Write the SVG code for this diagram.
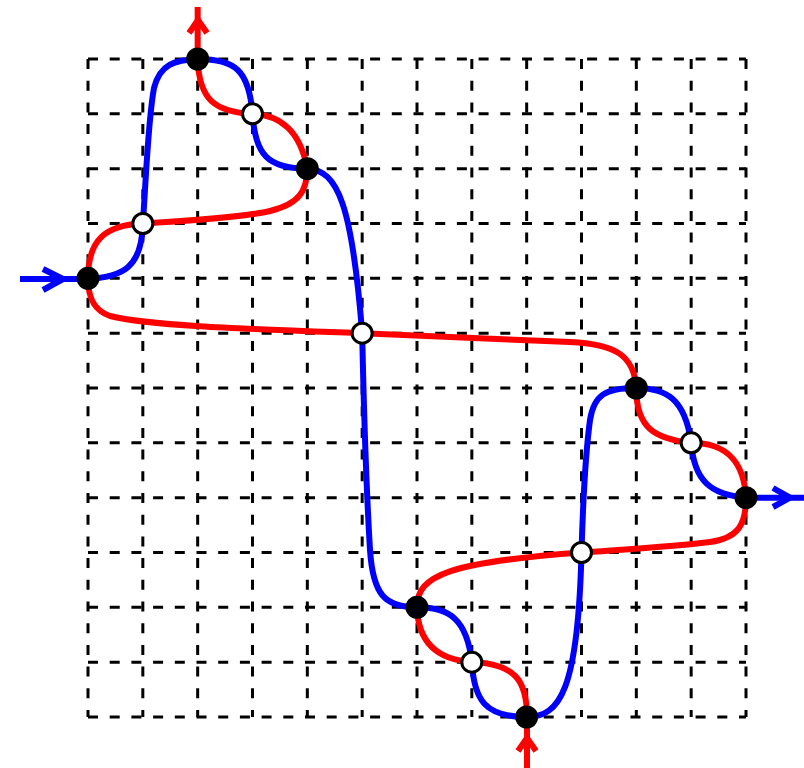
<svg xmlns="http://www.w3.org/2000/svg" width="804" height="768" viewBox="0 0 804 768">
<style>
.grid{fill:none;stroke:#000;stroke-width:3;stroke-dasharray:10 11.7}
.red{fill:none;stroke:#ff0000;stroke-width:6;stroke-linecap:butt;stroke-linejoin:round}
.blue{fill:none;stroke:#0000ff;stroke-width:6;stroke-linecap:butt;stroke-linejoin:round}
.black{fill:#000;stroke:none}
.white{fill:#fff;stroke:#000;stroke-width:3}
</style>
<rect width="804" height="768" fill="#fff"/>
<g id="grid" class="grid">
<path d="M88 59V717M142.83 59V717M197.67 59V717M252.5 59V717M307.33 59V717M362.17 59V717M417 59V717M471.83 59V717M526.67 59V717M581.5 59V717M636.33 59V717M691.17 59V717M746 59V717"/>
<path d="M88 59H746M88 113.83H746M88 168.67H746M88 223.5H746M88 278.33H746M88 333.17H746M88 388H746M88 442.83H746M88 497.67H746M88 552.5H746M88 607.33H746M88 662.17H746M88 717H746"/>
</g>
<g id="connectors">
<path class="red" d="M527 768V717 C527 680 515 664 472 662 C440 660 418 645 417 607 C417 575 450 562 581.5 552.5 C630 549 680 546 710 542 C738 538 746 525 746 497.67 C744 465 730 443 691 442.83 C655 439 636 428 636.33 388 C634 355 615 344 570 342 C500 339 420 336 362.17 333.17 C250 329 150 326 110 316 C92 310 88 295 88 278.33 C88 240 105 225 142.83 223.5 C200 220 250 216 270 211 C300 204 307 190 307.33 168.67 C300 130 280 115 252.5 113.83 C215 112 199 100 197.67 59 V7"/>
<path class="red" d="M518 751L527 738L536 751"/>
<path class="red" d="M189 33L198 20L207 33"/>
<path class="blue" d="M20 279H88 C122 277 142 268 142.83 223.5 C146 180 148 120 154 88 C160 64 175 60 197.67 59 C235 59 249 70 252.5 113.83 C255 155 268 168.67 307.33 168.67 C338 170 352 205 362.17 333.17 C364 420 367 500 370 550 C373 595 385 607.33 417 607.33 C450 607 467 620 471.83 662.17 C474 700 485 717 526.67 717 C560 717 578 690 581.5 552.5 C583 500 586 450 590 420 C594 395 605 388 636.33 388 C665 388 685 398 691.17 442.83 C694 480 710 495 746 497.67 H804"/>
<path class="blue" d="M43 269L63 279L43 290"/>
<path class="blue" d="M773 488L790 497.67L773 507"/>
</g>
<g id="n1"><circle class="black" cx="197.67" cy="59" r="11.5"/></g>
<g id="n2"><circle class="white" cx="252.5" cy="113.83" r="10"/></g>
<g id="n3"><circle class="black" cx="307.33" cy="168.67" r="11.5"/></g>
<g id="n4"><circle class="white" cx="142.83" cy="223.5" r="10"/></g>
<g id="n5"><circle class="black" cx="88" cy="278.33" r="11.5"/></g>
<g id="n6"><circle class="white" cx="362.17" cy="333.17" r="10"/></g>
<g id="n7"><circle class="black" cx="636.33" cy="388" r="11.5"/></g>
<g id="n8"><circle class="white" cx="691.17" cy="442.83" r="10"/></g>
<g id="n9"><circle class="black" cx="746" cy="497.67" r="11.5"/></g>
<g id="n10"><circle class="white" cx="581.5" cy="552.5" r="10"/></g>
<g id="n11"><circle class="black" cx="417" cy="607.33" r="11.5"/></g>
<g id="n12"><circle class="white" cx="471.83" cy="662.17" r="10"/></g>
<g id="n13"><circle class="black" cx="526.67" cy="717" r="11.5"/></g>
</svg>
